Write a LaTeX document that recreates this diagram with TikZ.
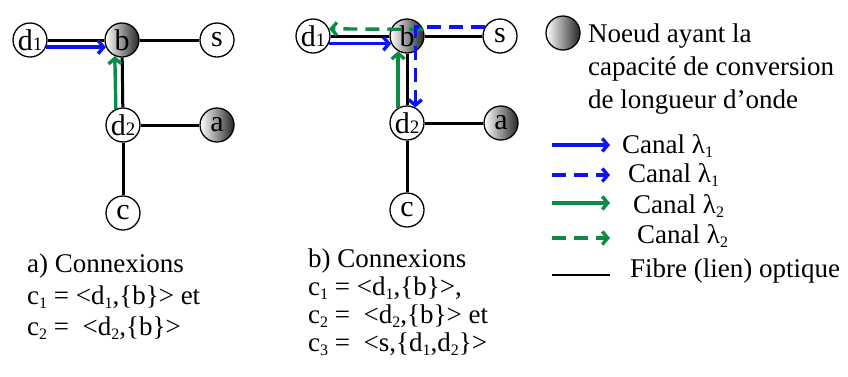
\documentclass[tikz,border=0pt]{standalone}
\usepackage{fontspec}
\setmainfont{Liberation Serif}
\usepackage{xcolor}
\usepackage{tikz}
\usetikzlibrary{arrows.meta, positioning}
\definecolor{cLamA}{HTML}{0A14F0}
\definecolor{cLamB}{HTML}{0A8C46}
\newcommand\lowsub[1]{\raisebox{-0.4ex}{\fontsize{16}{16}\selectfont #1}}
\newcommand\ndsub[1]{{\fontsize{19}{19}\selectfont #1}}

\begin{document}
\begin{tikzpicture}[x=1pt, y=-1pt, font=\fontsize{27}{30}\selectfont,
  nd/.style={circle, draw, line width=1.3pt, fill=white, minimum size=34pt, inner sep=0pt, font=\fontsize{30}{30}\selectfont},
  conv/.style={nd, left color=white, right color=black!85},
  fibre/.style={line width=3pt},
  chan/.style={line width=3.4pt, -{Straight Barb[length=5.5pt, width=13pt, line width=3.4pt]}},
  chanA/.style={chan, cLamA},
  chanB/.style={chan, cLamB},
  dsh/.style={dash pattern=on 14pt off 8pt},
  txt/.style={anchor=base west, inner sep=0pt},
]
\useasboundingbox (0,0) rectangle (848,376);

% a) network
\node[nd]   (d1a) at (30,40)   {d\ndsub{1}};
\node[conv] (ba)  at (122,40)  {b};
\node[nd]   (sa)  at (217,40)  {s};
\node[nd]   (d2a) at (123,125) {d\ndsub{2}};
\node[conv] (aa)  at (217,125) {a};
\node[nd]   (ca)  at (123,213) {c};
\draw[fibre] (d1a) -- (ba);
\draw[fibre] (ba) -- (sa);
\draw[fibre] (ba) -- (d2a);
\draw[fibre] (d2a) -- (aa);
\draw[fibre] (d2a) -- (ca);
\draw[chanA] (d1a.-24) -- (ba.204);
\draw[chanB] (d2a.114) -- (ba.246);

% b) network
\node[nd]   (d1b) at (313,36)  {d\ndsub{1}};
\node[conv] (bb)  at (407,36)  {b};
\node[nd]   (sb)  at (500,36)  {s};
\node[nd]   (d2b) at (407,123) {d\ndsub{2}};
\node[conv] (ab)  at (501,123) {a};
\node[nd]   (cb)  at (407,210) {c};
\draw[fibre] (d1b) -- (bb);
\draw[fibre] (bb) -- (sb);
\draw[fibre] (bb) -- (d2b);
\draw[fibre] (d2b) -- (ab);
\draw[fibre] (d2b) -- (cb);
\draw[chanA] (d1b.-26) -- (bb.206);
\draw[chanB] (d2b.120) -- (bb.240);
\draw[chanB, dsh] (bb.22) -- (d1b.24);
\draw[chanA, dsh] (sb.150) -| (d2b.62);

% connexions
\node[txt] (ta0) at (27,272)  {a) Connexions};
\node[txt] (ta1) at (27,304)  {c\lowsub{1} = <d\lowsub{1},\{b\}> et};
\node[txt] (ta2) at (27,335)  {c\lowsub{2} = \ <d\lowsub{2},\{b\}>};
\node[txt] (tb0) at (308,267) {b) Connexions};
\node[txt] (tb1) at (308,295) {c\lowsub{1} = <d\lowsub{1},\{b\}>,};
\node[txt] (tb2) at (308,323) {c\lowsub{2} = \ <d\lowsub{2},\{b\}> et};
\node[txt] (tb3) at (308,351) {c\lowsub{3} = \ <s,\{d\lowsub{1},d\lowsub{2}\}>};

% legend
\node[conv] (lconv) at (563,33) {};
\node[txt] (ln1) at (588,42)  {Noeud ayant la};
\node[txt] (ln2) at (588,75)  {capacité de conversion};
\node[txt] (ln3) at (588,108) {de longueur d’onde};
\foreach \i/\y in {1/145,2/175,3/203,4/238,5/275} {
  \coordinate (ls\i) at (552,\y);
  \coordinate (le\i) at (610,\y);
}
\draw[chanA] (ls1) -- (le1);
\draw[chanA, dsh] (ls2) -- (le2);
\draw[chanB] (ls3) -- (le3);
\draw[chanB, dsh] (ls4) -- (le4);
\draw[line width=1.6pt] (ls5) -- (le5);
\node[txt] (lc1) at (622,153) {Canal λ\lowsub{1}};
\node[txt] (lc2) at (628,182) {Canal λ\lowsub{1}};
\node[txt] (lc3) at (633,213) {Canal λ\lowsub{2}};
\node[txt] (lc4) at (637,243) {Canal λ\lowsub{2}};
\node[txt] (lf)  at (630,277) {Fibre (lien) optique};
\end{tikzpicture}
\end{document}
